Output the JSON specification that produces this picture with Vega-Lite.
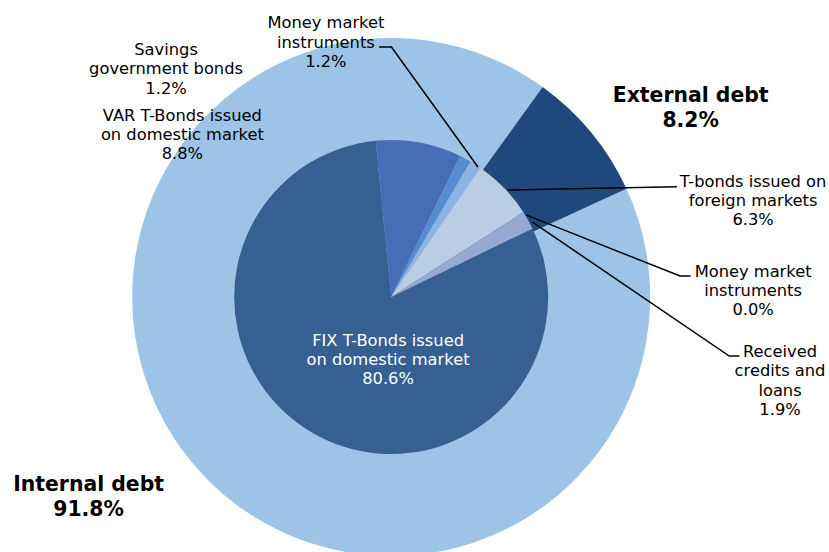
{
  "$schema": "https://vega.github.io/schema/vega-lite/v6.json",
  "width": 829,
  "height": 552,
  "autosize": "none",
  "padding": 0,
  "background": "white",
  "config": {"view": {"stroke": null}},
  "datasets": {
    "outer": [
      {"name": "Internal debt", "share": 91.8, "order": 1},
      {"name": "External debt", "share": 8.2, "order": 2}
    ],
    "inner": [
      {"name": "FIX T-Bonds issued on domestic market", "share": 80.6, "order": 1},
      {"name": "VAR T-Bonds issued on domestic market", "share": 8.8, "order": 2},
      {"name": "Savings government bonds", "share": 1.2, "order": 3},
      {"name": "Money market instruments (internal)", "share": 1.2, "order": 4},
      {"name": "T-bonds issued on foreign markets", "share": 6.3, "order": 5},
      {"name": "Money market instruments (external)", "share": 0.0, "order": 6},
      {"name": "Received credits and loans", "share": 1.9, "order": 7}
    ],
    "labels": [
      {"kind": "item", "label": "Savings\ngovernment bonds\n1.2%", "lx": -86.9, "ly": 95.3},
      {"kind": "item", "label": "VAR T-Bonds issued\non domestic market\n8.8%", "lx": -80.6, "ly": 70.0},
      {"kind": "item", "label": "Money market\ninstruments\n1.2%", "lx": -25.2, "ly": 105.6},
      {"kind": "item", "label": "T-bonds issued on\nforeign markets\n6.3%", "lx": 139.7, "ly": 44.5},
      {"kind": "item", "label": "Money market\ninstruments\n0.0%", "lx": 139.7, "ly": 9.8},
      {"kind": "item", "label": "Received\ncredits and\nloans\n1.9%", "lx": 150.1, "ly": -21.2},
      {"kind": "inside", "label": "FIX T-Bonds issued\non domestic market\n80.6%", "lx": -1.2, "ly": -16.9},
      {"kind": "total", "label": "External debt\n8.2%", "lx": 115.6, "ly": 77.6},
      {"kind": "total", "label": "Internal debt\n91.8%", "lx": -116.8, "ly": -72.6}
    ],
    "leaders": [
      {"leader": "A", "step": 1, "lx": -4.7, "ly": 96.5},
      {"leader": "A", "step": 2, "lx": 0.1, "ly": 96.5},
      {"leader": "A", "step": 3, "lx": 33.5, "ly": 50.2},
      {"leader": "B", "step": 1, "lx": 45.0, "ly": 41.3},
      {"leader": "B", "step": 2, "lx": 110.3, "ly": 42.6},
      {"leader": "C", "step": 1, "lx": 52.0, "ly": 31.7},
      {"leader": "C", "step": 2, "lx": 111.5, "ly": 8.1},
      {"leader": "C", "step": 3, "lx": 115.6, "ly": 8.1},
      {"leader": "D", "step": 1, "lx": 54.4, "ly": 29.0},
      {"leader": "D", "step": 2, "lx": 130.5, "ly": -22.8},
      {"leader": "D", "step": 3, "lx": 134.4, "ly": -22.8}
    ]
  },
  "resolve": {"scale": {"theta": "independent", "color": "independent"}},
  "layer": [
    {
      "data": {"name": "outer"},
      "mark": {"type": "arc", "outerRadius": 259},
      "encoding": {
        "x": {"datum": 0, "type": "quantitative", "scale": {"domain": [-151, 169], "nice": false, "zero": false}, "axis": null},
        "y": {"datum": 0, "type": "quantitative", "scale": {"domain": [-98.43, 114.65], "nice": false, "zero": false}, "axis": null},
        "theta": {"field": "share", "type": "quantitative", "stack": true, "scale": {"range": [1.1397, 7.4229]}},
        "order": {"field": "order", "type": "quantitative"},
        "color": {"field": "name", "type": "nominal", "legend": null,
          "scale": {"domain": ["Internal debt", "External debt"], "range": ["#9DC3E6", "#1F497D"]}}
      }
    },
    {
      "data": {"name": "inner"},
      "mark": {"type": "arc", "outerRadius": 157},
      "encoding": {
        "x": {"datum": 0, "type": "quantitative", "scale": {"domain": [-151, 169], "nice": false, "zero": false}, "axis": null},
        "y": {"datum": 0, "type": "quantitative", "scale": {"domain": [-98.43, 114.65], "nice": false, "zero": false}, "axis": null},
        "theta": {"field": "share", "type": "quantitative", "stack": true, "scale": {"range": [1.1205, 7.4037]}},
        "order": {"field": "order", "type": "quantitative"},
        "color": {"field": "name", "type": "nominal", "legend": null,
          "scale": {
            "domain": ["FIX T-Bonds issued on domestic market", "VAR T-Bonds issued on domestic market", "Savings government bonds", "Money market instruments (internal)", "T-bonds issued on foreign markets", "Money market instruments (external)", "Received credits and loans"],
            "range": ["#366092", "#466EB6", "#558CCF", "#8DB3E2", "#B9CDE5", "#B9CDE5", "#95A9D1"]
          }}
      }
    },
    {
      "data": {"name": "leaders"},
      "mark": {"type": "line", "color": "black", "strokeWidth": 1.5},
      "encoding": {
        "x": {"field": "lx", "type": "quantitative", "scale": {"domain": [-151, 169], "nice": false, "zero": false}, "axis": null},
        "y": {"field": "ly", "type": "quantitative", "scale": {"domain": [-98.43, 114.65], "nice": false, "zero": false}, "axis": null},
        "detail": {"field": "leader", "type": "nominal"},
        "order": {"field": "step", "type": "quantitative"}
      }
    },
    {
      "data": {"name": "labels"},
      "transform": [{"filter": "datum.kind === 'item'"}],
      "mark": {"type": "text", "font": "DejaVu Sans", "fontSize": 16.3, "lineHeight": 19.3, "lineBreak": "\n", "align": "center", "baseline": "middle", "color": "black"},
      "encoding": {
        "x": {"field": "lx", "type": "quantitative", "scale": {"domain": [-151, 169], "nice": false, "zero": false}, "axis": null},
        "y": {"field": "ly", "type": "quantitative", "scale": {"domain": [-98.43, 114.65], "nice": false, "zero": false}, "axis": null},
        "text": {"field": "label", "type": "nominal"}
      }
    },
    {
      "data": {"name": "labels"},
      "transform": [{"filter": "datum.kind === 'inside'"}],
      "mark": {"type": "text", "font": "DejaVu Sans", "fontSize": 16.3, "lineHeight": 19.3, "lineBreak": "\n", "align": "center", "baseline": "middle", "color": "white"},
      "encoding": {
        "x": {"field": "lx", "type": "quantitative", "scale": {"domain": [-151, 169], "nice": false, "zero": false}, "axis": null},
        "y": {"field": "ly", "type": "quantitative", "scale": {"domain": [-98.43, 114.65], "nice": false, "zero": false}, "axis": null},
        "text": {"field": "label", "type": "nominal"}
      }
    },
    {
      "data": {"name": "labels"},
      "transform": [{"filter": "datum.kind === 'total'"}],
      "mark": {"type": "text", "font": "DejaVu Sans", "fontSize": 20.4, "fontWeight": "bold", "lineHeight": 24.7, "lineBreak": "\n", "align": "center", "baseline": "middle", "color": "black"},
      "encoding": {
        "x": {"field": "lx", "type": "quantitative", "scale": {"domain": [-151, 169], "nice": false, "zero": false}, "axis": null},
        "y": {"field": "ly", "type": "quantitative", "scale": {"domain": [-98.43, 114.65], "nice": false, "zero": false}, "axis": null},
        "text": {"field": "label", "type": "nominal"}
      }
    }
  ]
}
